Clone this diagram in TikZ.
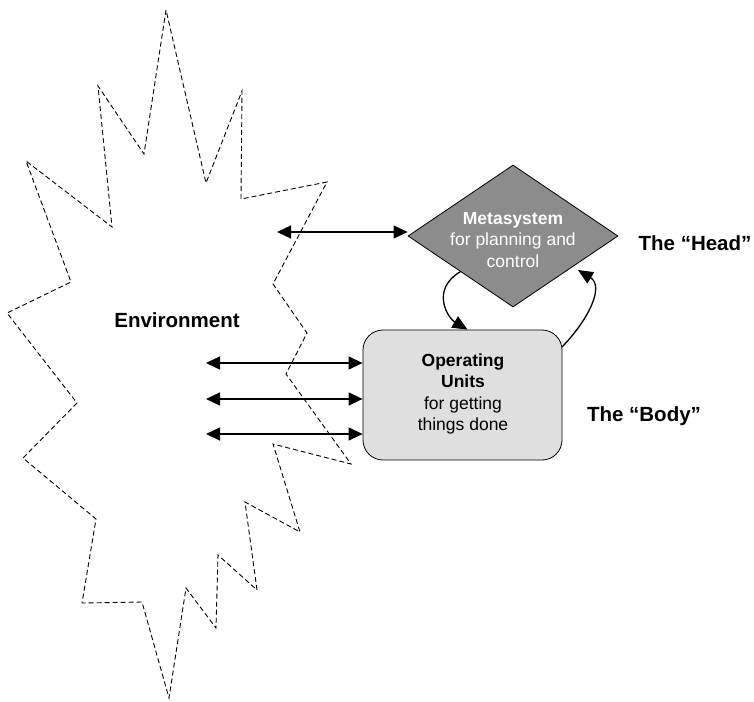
\documentclass[tikz,border=0pt]{standalone}
\usepackage{fontspec}
\setmainfont{Liberation Sans}
\usetikzlibrary{arrows.meta,shapes.geometric,calc}
\begin{document}
\begin{tikzpicture}[x=1pt,y=-1pt,
    envline/.style = {draw, line width=0.9pt, dash pattern=on 5pt off 3pt},
    link/.style = {line width=1.3pt, {Triangle[length=14pt,width=13pt]}-{Triangle[length=14pt,width=13pt]}},
    loop/.style = {line width=1.3pt, -{Triangle[length=15pt,width=13pt]}},
    meta/.style = {draw, diamond, fill=black!45, line width=0.8pt, minimum width=210pt, minimum height=142pt, inner sep=0pt},
    ops/.style = {draw, rectangle, rounded corners=20pt, fill=gray!25, line width=0.8pt, minimum width=199pt, minimum height=130pt},
    inner/.style = {align=center, font=\fontsize{17.5}{21.5}\selectfont, inner sep=0pt},
    tag/.style = {font=\fontsize{20.5}{24}\selectfont\bfseries, inner sep=0pt}]
        \useasboundingbox (0,0) rectangle (754,701);
        % environment
        \draw[envline] (166,10) -- (144,154) -- (98,86) -- (112,227) -- (26,161)
            -- (71,282) -- (7,313) -- (77,403) -- (23,458) -- (96,519) -- (82,603)
            -- (142,602) -- (169,698) -- (186,588) -- (216,628) -- (218,555)
            -- (257,590) -- (245,502) -- (300,532) -- (273,444) -- (351,464)
            -- (286,374) -- (307,333) -- (273,284) -- (327,182) -- (241,199)
            -- (242,91) -- (206,183) -- cycle;
        \node[tag] (env) at (177,320) {Environment};
        %
        \node[meta] (meta) at (513,236) {};
        \node[inner, text=white] (metatext) at (513,240) {\textbf{Metasystem}\\for planning and\\control};
        \node[ops] (ops) at (462.5,395) {};
        \node[inner] (opstext) at (463,394) {\textbf{Operating}\\\textbf{Units}\\for getting\\things done};
        \node[tag] (head) at (695,243) {The “Head”};
        \node[tag] (body) at (644,416) {The “Body”};
        %
        \coordinate (e0) at (277,232);
        \coordinate (e1) at (206,363);
        \coordinate (e2) at (206,399);
        \coordinate (e3) at (206,434);
        \coordinate (up) at (562,347);
        \coordinate (hr) at (578,270);
        %
        \draw[link] (e0) -- (e0 -| meta.west);
        \draw[link] (e1) -- (e1 -| ops.west);
        \draw[link] (e2) -- (e2 -| ops.west);
        \draw[link] (e3) -- (e3 -| ops.west);
        \draw[loop] (meta.south west) .. controls (430,290) and (448,318) .. ([xshift=5pt]ops.north);
        \draw[loop] (up) .. controls (590,318) and (604,286) .. (hr);
      \end{tikzpicture}
\end{document}
